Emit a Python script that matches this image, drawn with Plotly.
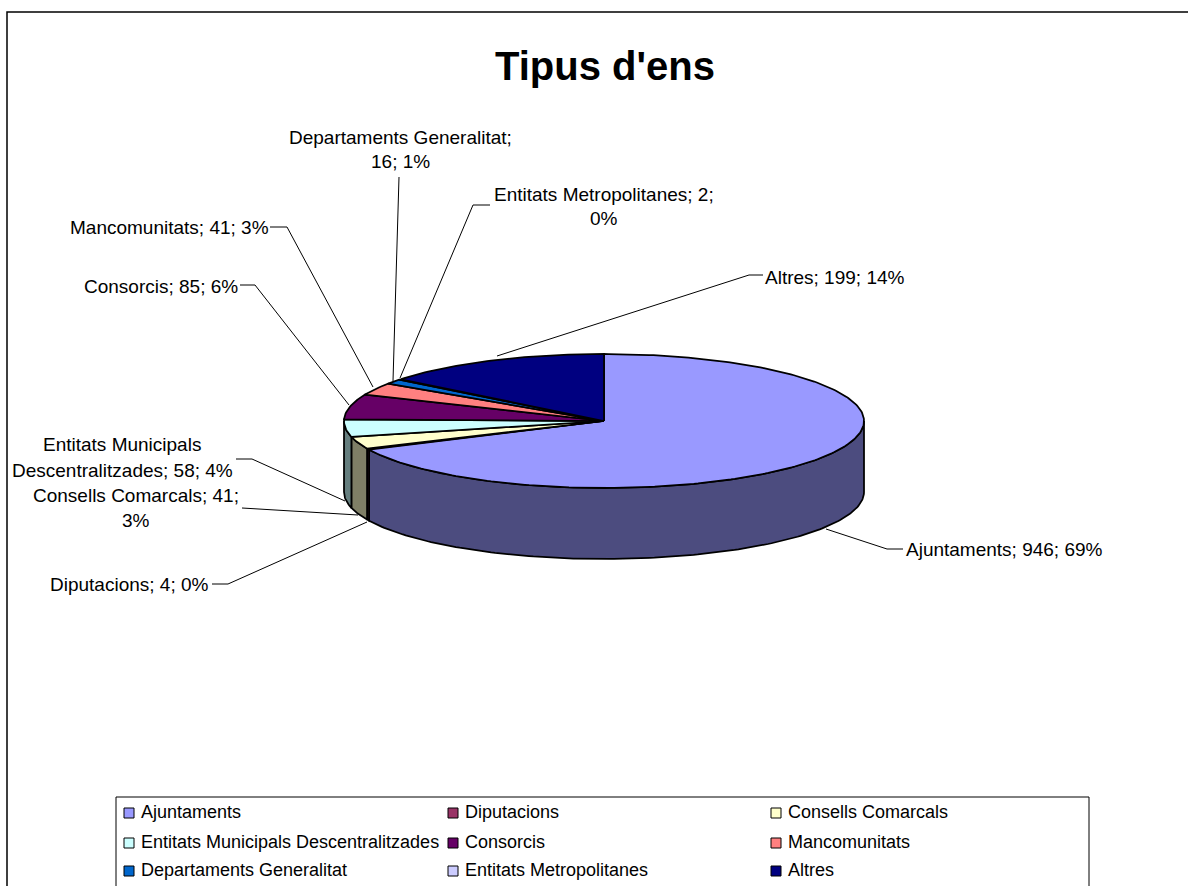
import math
import plotly.graph_objects as go

categories = ["Ajuntaments", "Diputacions", "Consells Comarcals",
              "Entitats Municipals Descentralitzades", "Consorcis", "Mancomunitats",
              "Departaments Generalitat", "Entitats Metropolitanes", "Altres"]
values = [946, 4, 41, 58, 85, 41, 16, 2, 199]
percent_labels = ["69%", "0%", "3%", "4%", "6%", "3%", "1%", "0%", "14%"]
colors = ["#9999FF", "#993366", "#FFFFCC", "#CCFFFF", "#660066",
          "#FF8080", "#0066CC", "#CCCCFF", "#000080"]

W, H = 1188, 886
CX, CY, RX, RY, DEPTH = 604, 421, 260, 67, 71
FONT = "Liberation Sans, Arial, sans-serif"


def shade(hex_color):
    r, g, b = (int(hex_color[i:i + 2], 16) for i in (1, 3, 5))
    return f"rgb({r // 2},{g // 2},{b // 2})"


def pt(deg, dy=0):
    t = math.radians(deg)
    return CX + RX * math.sin(t), CY - RY * math.cos(t) + dy


def arc(a, b):
    n = max(2, int(abs(b - a)) + 2)
    return [pt(a + (b - a) * i / (n - 1)) for i in range(n)]


total = sum(values)
edges = [0]
for v in values:
    edges.append(edges[-1] + v / total * 360)

fig = go.Figure()


def poly(points, fill, width=1.75):
    xs, ys = zip(*points)
    fig.add_trace(go.Scatter(x=list(xs) + [xs[0]], y=list(ys) + [ys[0]], mode="lines",
                             fill="toself", fillcolor=fill,
                             line=dict(color="black", width=width),
                             hoverinfo="skip", showlegend=False))


# side wall, front half only
for i in range(len(values)):
    a, b = max(edges[i], 90), min(edges[i + 1], 270)
    if a >= b:
        continue
    top = arc(a, b)
    bottom = [(x, y + DEPTH) for x, y in reversed(top)]
    poly(top + bottom, shade(colors[i]))

# top face
for i in range(len(values)):
    poly([(CX, CY)] + arc(edges[i], edges[i + 1]), colors[i])

# leader lines, label anchors and label texts
leaders = [
    [(826, 529), (887, 549), (903, 549)],
    [(367, 522), (228, 584), (212, 584)],
    [(358, 515), (242, 508)],
    [(345, 501), (252, 459), (236, 459)],
    [(349, 405), (255, 285), (240, 285)],
    [(373, 387), (287, 227), (270, 227)],
    [(393, 381), (399, 177)],
    [(400, 378), (473, 205), (490, 205)],
    [(497, 356), (749, 275), (763, 275)],
]
for line in leaders:
    xs, ys = zip(*line)
    fig.add_trace(go.Scatter(x=xs, y=ys, mode="lines", line=dict(color="black", width=1),
                             hoverinfo="skip", showlegend=False))

label_lines = [
    ([f"{categories[0]}; {values[0]}; {percent_labels[0]}"], 1004, [549]),
    ([f"{categories[1]}; {values[1]}; {percent_labels[1]}"], 129, [584]),
    ([f"Consells Comarcals; {values[2]};", percent_labels[2]], 136, [495, 520]),
    (["Entitats Municipals", f"Descentralitzades; {values[3]}; {percent_labels[3]}"], 122, [444, 470]),
    ([f"{categories[4]}; {values[4]}; {percent_labels[4]}"], 161, [286]),
    ([f"{categories[5]}; {values[5]}; {percent_labels[5]}"], 169, [227]),
    (["Departaments Generalitat;", f"{values[6]}; {percent_labels[6]}"], 400, [137, 161]),
    (["Entitats Metropolitanes; 2;", percent_labels[7]], 604, [194, 218]),
    ([f"{categories[8]}; {values[8]}; {percent_labels[8]}"], 835, [277]),
]
annotations = []
for lines, x, ys in label_lines:
    for text, y in zip(lines, ys):
        annotations.append(dict(x=x, y=y, text=text, showarrow=False, xanchor="center",
                                yanchor="middle", font=dict(family=FONT, size=19, color="black")))

annotations.append(dict(x=605, y=66, text="<b>Tipus d'ens</b>", showarrow=False,
                        xanchor="center", yanchor="middle",
                        font=dict(family=FONT, size=40, color="black")))

# legend
legend_x = [129, 453, 776]
legend_y = [812, 842, 870]
for i, name in enumerate(categories):
    lx, ly = legend_x[i % 3], legend_y[i // 3]
    fig.add_trace(go.Scatter(x=[lx], y=[ly + 1], mode="markers",
                             marker=dict(symbol="square", size=10, color=colors[i],
                                         line=dict(color="black", width=1)),
                             hoverinfo="skip", showlegend=False))
    annotations.append(dict(x=lx + 10, y=ly, text=name, showarrow=False, xanchor="left",
                            yanchor="middle", font=dict(family=FONT, size=18, color="black")))

shapes = [
    dict(type="rect", x0=7, y0=12, x1=1210, y1=910, line=dict(color="black", width=1.5)),
    dict(type="rect", x0=116, y0=797, x1=1089, y1=910, line=dict(color="black", width=1)),
]

fig.update_layout(
    width=W, height=H, margin=dict(l=0, r=0, t=0, b=0),
    paper_bgcolor="white", plot_bgcolor="white",
    xaxis=dict(range=[0, W], visible=False, fixedrange=True),
    yaxis=dict(range=[H, 0], visible=False, fixedrange=True),
    showlegend=False, annotations=annotations, shapes=shapes,
)
fig.write_html("out.html", config={"displayModeBar": False},
               post_script="document.body.style.margin='0';document.body.style.overflow='hidden';")
